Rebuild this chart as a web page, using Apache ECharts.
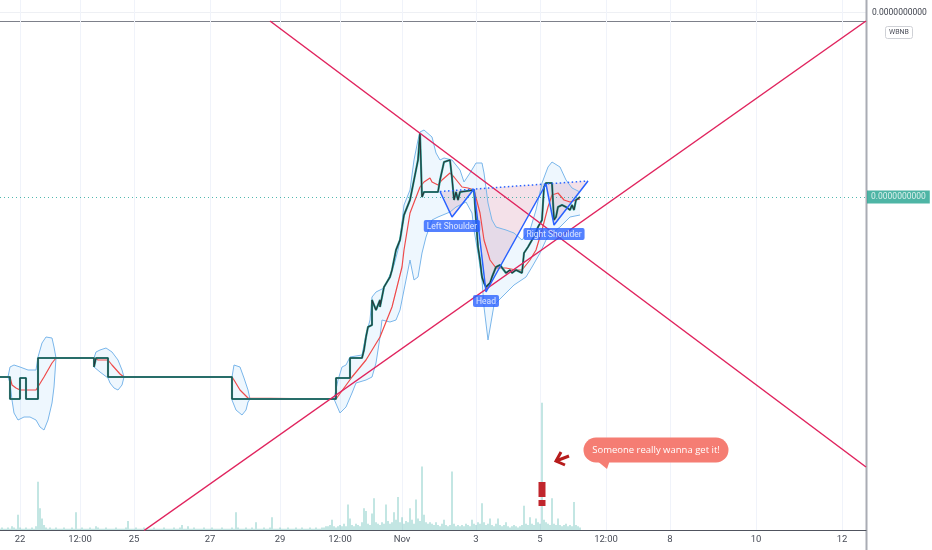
<!DOCTYPE html>
<html><head><meta charset="utf-8">
<script src="https://cdn.jsdelivr.net/npm/echarts@6/dist/echarts.min.js"></script>
<style>html,body{margin:0;padding:0;background:#fff}#c{width:932px;height:550px}</style>
</head><body><div id="c"></div>
<script>
// ---- data (x = bar slot index, y = price in 1e-11 units, volume in arbitrary units)
const SLOTS = 434;
const tickIdx = [10,40,67,105,140,170,201,238,270,303,335,378,421];
const tickLabels = ['22','12:00','25','27','29','12:00','Nov','3','5','12:00','8','10','12'];

const price = [[0,30.6],[5,30.6],[5,26.2],[10,26.2],[10,30.4],[13,30.4],[13,26.2],[19,26.2],[19,34.4],[47,34.4],[47,32.6],[48,32.6],[48,34.4],[54,34.4],[54,30.6],[116,30.6],[116,26.2],[168,26.2],[168,30.4],[175,30.4],[175,34.4],[181,34.4],[182,36],[183,38.6],[184,40.6],[186,41],[186,46],[188,44],[190,46],[190,44.6],[192,48.6],[195,50.6],[196,52],[198,56],[200,58],[202,63],[205,66],[207,70],[209,74],[210,79.4],[211,66.6],[212,67.6],[219,67.6],[220,70],[222,73.6],[225,74],[226,70.4],[227,66],[228,67.6],[229,66],[230,67.6],[237,68],[238,62],[239,56.6],[240,54],[241,50.6],[242,49.4],[243,48.6],[245,49.4],[246,50.6],[248,52.6],[250,53],[251,52.6],[253,51.4],[255,52],[256,51.4],[258,52],[261,51.4],[262,55.4],[263,55.4],[264,56.6],[266,58],[267,58.6],[269,60.6],[271,62],[272,68.6],[273,69.4],[276,69.4],[277,62],[278,62.6],[279,64.6],[281,65],[283,64.6],[285,64],[286,65],[287,64],[288,66],[290,66.6]];

const ma = [[0,30.6],[5,30.6],[6,29],[8,28.4],[10,28],[18,28],[19,28.4],[22,30.6],[26,33.4],[28,34.4],[47,34.4],[49,34],[54,34],[56,33],[60,31.2],[62,30.6],[116,30.6],[117,30],[120,28],[124,26.4],[125,26.2],[168,26.2],[176,30.6],[183,34],[190,38.6],[196,44.6],[201,52.6],[202,56],[205,63.4],[210,68.6],[212,69.6],[215,70.4],[216,69.6],[219,69],[221,70],[225,71.4],[227,70.6],[231,68.6],[234,68.4],[237,68],[240,63.4],[242,58],[245,54],[248,52.4],[253,52.4],[258,52],[261,52],[265,54],[268,56],[271,60],[274,64.6],[276,67],[279,67.4],[282,66],[285,65.6],[288,66],[290,66.2]];

const bandUpper = [[0,30.6],[4,30.6],[5,32.6],[7,33],[10,32.6],[14,32],[18,32],[19,34.6],[21,37.4],[23,38.6],[26,38.4],[27,36.6],[28,34.4],[47,34.4],[48,35.6],[50,36],[53,36.4],[56,35.6],[59,34],[61,32],[62,30.6],[116,30.6],[117,33],[120,32.6],[122,30.4],[124,28],[125,26.2],[167,26.2],[169,30],[171,32.6],[173,33],[175,34.6],[181,35],[183,39],[185,42],[186,46.6],[188,47.6],[190,48],[192,48.4],[195,51],[197,53],[199,56],[200,58],[202,65],[205,68],[207,74],[209,78],[210,79.6],[212,80],[216,78.6],[218,75.4],[220,74],[222,74.4],[226,74],[230,72],[232,69.6],[235,71.4],[238,73.4],[241,73.4],[242,71.4],[244,65.4],[246,62],[248,60.6],[253,60],[257,59.4],[261,58],[265,60],[268,64],[271,69.4],[274,72.6],[276,73.6],[280,72.6],[283,70],[286,68.4],[290,67.6]];

const bandLower = [[0,30.6],[4,30.6],[5,29.4],[6,26],[7,23.4],[9,22],[12,22.6],[15,22.6],[18,22],[20,20.6],[22,20],[24,22],[26,25.4],[27,28.6],[28,34.4],[47,34.4],[47,32.6],[50,31.6],[54,30.4],[55,29.4],[57,28.4],[59,28],[61,29],[62,30.6],[116,30.6],[116,26],[118,24],[121,23],[123,24],[124,25.6],[125,26.2],[167,26.2],[170,23.4],[173,24.6],[176,27.4],[178,29.4],[183,30],[186,30.6],[188,33.4],[190,38.6],[191,42],[195,41.6],[198,42],[200,44],[203,50],[205,54],[207,50],[209,50.6],[211,55.4],[213,58.6],[216,62],[219,62.6],[225,63.6],[228,64.6],[233,65.6],[236,63.4],[237,60],[239,55.4],[241,50],[242,44.6],[244,38],[247,45],[252,47],[257,49],[263,50.6],[266,52.6],[270,55.4],[273,58],[276,59.4],[280,60.6],[285,62.6],[290,63]];

const volume = [
1,2,1,1,2,1,3,2,1,12, 2,1,1,2,1,1,2,1,3,38, 17,9,4,2,1,2,1,1,2,1, 1,1,2,1,1,1,2,1,14,1,
1,2,1,1,1,2,1,1,3,2, 1,1,1,2,1,1,1,1,2,1, 1,1,1,2,7,1,1,1,2,1, 1,1,2,1,1,1,1,2,1,1,
1,1,2,1,1,1,1,2,1,1, 2,4,1,1,3,1,1,2,1,1, 1,1,2,1,1,1,2,1,1,1, 1,2,1,1,1,1,2,1,14,2,
1,1,1,2,1,1,2,1,6,1, 1,1,2,1,1,2,10,1,1,1, 2,1,1,1,2,1,1,1,2,1, 1,2,1,1,1,2,1,1,2,1,
1,2,2,3,3,4,8,3,2,3, 4,3,5,3,20,9,4,3,5,4, 3,6,17,15,5,4,13,25,6,5, 4,6,5,20,7,5,6,14,8,26,
6,10,5,7,6,17,8,5,24,9, 7,50,12,6,5,6,5,4,6,4, 3,5,8,4,3,4,46,5,3,4, 3,4,3,5,4,3,8,5,4,6,
5,21,6,4,5,9,4,3,5,9, 4,3,4,6,3,2,3,4,3,2, 3,4,19,5,4,10,5,4,9,6, 5,100,8,6,5,4,25,5,4,9,
4,3,4,5,3,4,3,22,4,3, 2];

const trendDown = [[135,101.8],[433,12.6]];
const trendUp = [[72,-0.1],[433,101.8]];
const hsPoints = [[220,67.7],[226,62.6],[237,68.2],[243,47.6],[273,69.2],[277,61],[294,69.8]];
const neckline = [[220,67.7],[294,69.8]];
const hsLabels = [{name:'Left Shoulder',value:[226,62.6]},{name:'Head',value:[243,47.6]},{name:'Right Shoulder',value:[277,61]}];
const lastPrice = 66.6;
const priceText = '0.0000000000';
const symbolText = 'WBNB';
const calloutText = 'Someone really wanna get it!';
const calloutAnchor = [328, 16];
const arrowAnchor = [278, 13.8];
const exclAnchor = [271, 7.2];

// ---- chart
const cats = Array.from({length: SLOTS}, (_, i) => 'b' + i);
const labelAt = {};
tickIdx.forEach((t, k) => labelAt[t] = tickLabels[k]);
const isTick = (i) => labelAt[i] !== undefined;

const chart = echarts.init(document.getElementById('c'), null, {renderer: 'canvas'});
const option = {
  animation: false,
  textStyle: {fontFamily: 'Roboto'},
  grid: [
    {left: 0, right: 66, top: 21, bottom: 20},
    {left: 0, right: 66, top: 0, height: 21}
  ],
  xAxis: [
    {type: 'category', gridIndex: 0, data: cats, boundaryGap: false,
     axisLine: {lineStyle: {color: '#50535e', width: 1}},
     axisTick: {show: false},
     axisLabel: {interval: (i) => isTick(i), formatter: (v, i) => labelAt[i] || '',
       color: '#4a4e59', fontSize: 9.5, margin: 5},
     splitLine: {show: true, interval: (i) => isTick(i), lineStyle: {color: '#f0f3fa', width: 1}}},
    {type: 'category', gridIndex: 1, data: cats, boundaryGap: false,
     axisLine: {show: false}, axisTick: {show: false}, axisLabel: {show: false},
     splitLine: {show: true, interval: (i) => isTick(i), lineStyle: {color: '#f0f3fa', width: 1}}}
  ],
  yAxis: [
    {type: 'value', gridIndex: 0, min: 0, max: 101.8, show: false},
    {type: 'value', gridIndex: 0, min: 0, max: 400, show: false},
    {type: 'value', gridIndex: 1, min: 0, max: 1, show: false}
  ],
  series: [
    {type: 'bar', name: 'volume', xAxisIndex: 0, yAxisIndex: 1, data: volume, barWidth: 1,
     itemStyle: {color: 'rgba(38,166,154,0.55)'}, silent: true, z: 1},
    {type: 'custom', name: 'bandFill', xAxisIndex: 0, yAxisIndex: 0, data: [[0, 0]], silent: true, clip: true, z: 2,
     renderItem: (p, api) => {
       const pts = bandUpper.map(d => api.coord(d)).concat(bandLower.slice().reverse().map(d => api.coord(d)));
       return {type: 'polygon', shape: {points: pts}, style: {fill: 'rgba(66,165,245,0.09)'}};
     }},
    {type: 'custom', name: 'hsFill', xAxisIndex: 0, yAxisIndex: 0, data: [[0, 0]], silent: true, clip: true, z: 2,
     renderItem: (p, api) => {
       const pts = hsPoints.map(d => api.coord(d));
       return {type: 'polygon', shape: {points: pts}, style: {fill: 'rgba(173,20,87,0.13)'}};
     }},
    {type: 'line', name: 'upper', data: bandUpper, symbol: 'none', silent: true, z: 3,
     lineStyle: {color: '#7ab6ea', width: 1}},
    {type: 'line', name: 'lower', data: bandLower, symbol: 'none', silent: true, z: 3,
     lineStyle: {color: '#7ab6ea', width: 1}},
    {type: 'line', name: 'ma', data: ma, symbol: 'none', silent: true, z: 4,
     lineStyle: {color: '#ef4b4b', width: 1.2}},
    {type: 'line', name: 'priceGlow', data: price, symbol: 'none', silent: true, z: 5,
     lineStyle: {color: '#26a69a', width: 2.1}},
    {type: 'line', name: 'price', data: price, symbol: 'none', silent: true, z: 6,
     lineStyle: {color: '#2b3438', width: 1.1},
     markLine: {symbol: 'none', silent: true, data: [{yAxis: lastPrice}],
       lineStyle: {color: '#26a69a', type: [1, 3], width: 1, opacity: 0.8},
       label: {show: true, position: 'end', distance: 1, formatter: priceText,
         backgroundColor: '#22a28e', color: '#fff', padding: [2, 4], fontSize: 8.5}}},
    {type: 'line', name: 'trendDown', data: trendDown, symbol: 'none', silent: true, clip: true, z: 7,
     lineStyle: {color: '#e0245e', width: 1.5}},
    {type: 'line', name: 'trendUp', data: trendUp, symbol: 'none', silent: true, clip: true, z: 7,
     lineStyle: {color: '#e0245e', width: 1.5}},
    {type: 'line', name: 'hs', data: hsPoints, symbol: 'none', silent: true, z: 8,
     lineStyle: {color: '#2962ff', width: 1.5}},
    {type: 'line', name: 'neck', data: neckline, symbol: 'none', silent: true, z: 8,
     lineStyle: {color: '#2962ff', width: 1.5, type: [1.5, 2.5]}},
    {type: 'scatter', name: 'hsLabels', data: hsLabels, symbolSize: 0, silent: true, z: 9,
     label: {show: true, position: 'bottom', distance: 3, formatter: '{b}', color: '#fff', fontSize: 8.5,
       backgroundColor: '#2962ff', padding: [2, 3, 1, 3], borderRadius: 2}},
    {type: 'custom', name: 'notes', xAxisIndex: 0, yAxisIndex: 0, data: [[0, 0]], silent: true, clip: false, z: 10,
     renderItem: (p, api) => {
       const c = api.coord(calloutAnchor);
       const a = api.coord(arrowAnchor);
       const e = api.coord(exclAnchor);
       const fillC = '#f57d73', red = '#b71c1c';
       return {type: 'group', children: [
         {type: 'rect', shape: {x: c[0] - 72.5, y: c[1] - 12.5, width: 145, height: 25, r: 12.5}, style: {fill: fillC}},
         {type: 'polygon', shape: {points: [[c[0] - 60, c[1] + 10], [c[0] - 46, c[1] + 10], [c[0] - 49, c[1] + 19]]}, style: {fill: fillC}},
         {type: 'text', x: c[0], y: c[1], style: {text: calloutText, fill: '#fff', fontSize: 9.5, fontFamily: 'Open Sans',
           align: 'center', verticalAlign: 'middle', textAlign: 'center', textVerticalAlign: 'middle'}},
         {type: 'polyline', shape: {points: [[a[0] + 5, a[1] - 9], [a[0], a[1]], [a[0] + 9, a[1] + 4]]}, style: {stroke: red, lineWidth: 3, fill: null}},
         {type: 'line', shape: {x1: a[0], y1: a[1], x2: a[0] + 13, y2: a[1] - 5}, style: {stroke: red, lineWidth: 3}},
         {type: 'rect', shape: {x: e[0] - 3.5, y: e[1] - 12, width: 7, height: 15}, style: {fill: '#c0262d'}},
         {type: 'rect', shape: {x: e[0] - 3.5, y: e[1] + 6, width: 7, height: 6}, style: {fill: '#c0262d'}}
       ]};
     }}
  ],
  graphic: [
    {type: 'line', shape: {x1: 0, y1: 12.5, x2: 866, y2: 12.5}, style: {stroke: '#eef0f4', lineWidth: 1}, silent: true},
    {type: 'line', shape: {x1: 0, y1: 21.5, x2: 866, y2: 21.5}, style: {stroke: '#7d808a', lineWidth: 1}, silent: true},
    {type: 'line', shape: {x1: 866.5, y1: 0, x2: 866.5, y2: 550}, style: {stroke: '#a9acb4', lineWidth: 2}, silent: true},
    {type: 'text', x: 872, y: 12.5, style: {text: priceText, fill: '#3b3f4a', fontSize: 8.5, fontFamily: 'Roboto',
      textVerticalAlign: 'middle', verticalAlign: 'middle'}, silent: true},
    {type: 'rect', shape: {x: 885.5, y: 26.5, width: 27, height: 12, r: 2}, style: {fill: '#fff', stroke: '#cfd1d6', lineWidth: 1}, silent: true},
    {type: 'text', x: 899, y: 32.5, style: {text: symbolText, fill: '#50535e', fontSize: 7, fontFamily: 'Roboto',
      textAlign: 'center', align: 'center', textVerticalAlign: 'middle', verticalAlign: 'middle'}, silent: true}
  ]
};
chart.setOption(option);
</script>
</body></html>
